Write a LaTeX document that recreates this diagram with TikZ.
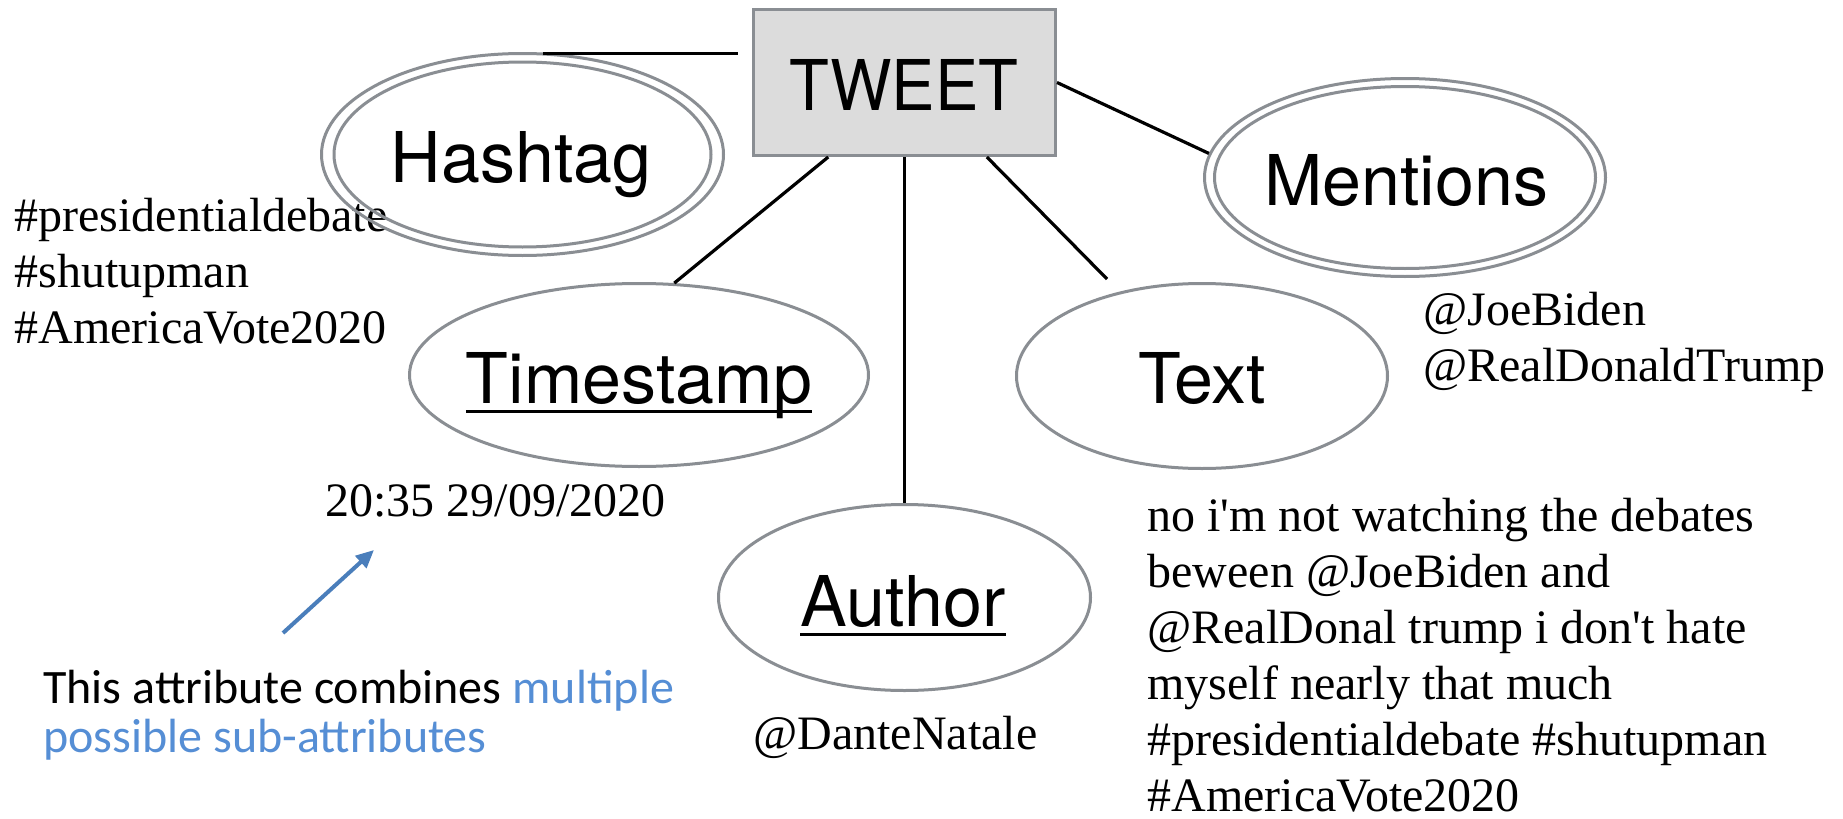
\documentclass[tikz,border=0pt]{standalone}
\usepackage{fontspec}
\setmainfont{Liberation Serif}[Ligatures=TeXOff]
\newfontfamily\labelfont{TeX Gyre Heros}
\newfontfamily\notefont{Carlito}
\usetikzlibrary{shapes.geometric,arrows.meta,calc}

\definecolor{edgegray}{HTML}{8A8E93}
\definecolor{boxfill}{HTML}{DCDCDC}
\definecolor{noteblue}{HTML}{558ED5}
\definecolor{arrowblue}{HTML}{4A7EBB}

% key attribute: text with a heavy underline
\newcommand{\keyattr}[1]{\setbox0=\hbox{#1}\rlap{\rule[-5pt]{\wd0}{1.75pt}}\box0}

\begin{document}
\begin{tikzpicture}[x=0.5pt,y=-0.5pt,
  entitybox/.style={draw=edgegray, line width=1.5pt, fill=boxfill, rectangle,
    inner sep=0pt, minimum width=151pt, minimum height=73pt},
  attrshape/.style={draw=edgegray, line width=1.5pt, ellipse, inner sep=0pt},
  attrline/.style={draw=edgegray, line width=1.5pt},
  lbl/.style={font=\labelfont\fontsize{35}{40}\selectfont, inner sep=0pt, anchor=base},
  % multi-line blocks are placed by the baseline of their last line
  sample/.style={font=\fontsize{24}{28}\selectfont, inner sep=0pt, anchor=base west, align=left},
  conn/.style={line width=1.6pt, black},
  notearrow/.style={line width=2pt, arrowblue, -{Triangle[length=9pt,width=8pt]}},
]
\useasboundingbox (0,0) rectangle (1843,819);
\fill[white] (0,0) rectangle (1843,819);

% sample values (drawn first so shapes sit on top)
\node[sample] (tagvals) at (14,343) {\#presidentialdebate\\\#shutupman\\\#AmericaVote2020};
\node[sample] (datevals) at (325,516) {20:35 29/09/2020};
\node[sample] (authorvals) at (753,749) {@DanteNatale};
\node[sample] (mentionvals) at (1423,381) {@JoeBiden\\@RealDonaldTrump};
\node[sample] (textvals) at (1147,811) {no i'm not watching the debates\\beween @JoeBiden and\\@RealDonal trump i don't hate\\myself nearly that much\\\#presidentialdebate \#shutupman\\\#AmericaVote2020};

% entity
\node[entitybox] (tweet) at (904.5,82.5) {};
\node[lbl] (tweet-t) at (904,110) {\scalebox{0.93}[1]{TWEET}};

% multivalued attributes (double ellipses)
\node[attrshape, minimum width=201pt, minimum height=101pt] (hashtag) at (522.5,154.5) {};
\draw[attrline] (hashtag.center) ellipse [x radius=188.5, y radius=92.5];
\node[lbl] (hashtag-t) at (521,182) {Hashtag};

\node[attrshape, minimum width=200.5pt, minimum height=99pt] (mentions) at (1405,177.5) {};
\draw[attrline] (mentions.center) ellipse [x radius=190.5, y radius=91];
\node[lbl] (mentions-t) at (1406,205) {Mentions};

% simple attributes
\node[attrshape, minimum width=229.5pt, minimum height=91.5pt] (timestamp) at (639,375) {};
\node[lbl] (timestamp-t) at (639,403) {\keyattr{Timestamp}};

\node[attrshape, minimum width=185.5pt, minimum height=92.5pt] (text) at (1202,376) {};
\node[lbl] (text-t) at (1202,403) {Text};

\node[attrshape, minimum width=186pt, minimum height=93pt] (author) at (904.5,597.5) {};
\node[lbl] (author-t) at (903,626) {\keyattr{Author}};

% connectors
\coordinate (hashtag-end) at ($(hashtag.north)+(20,1.5)$);
\coordinate (tweet-hashtag) at ($(tweet.west |- hashtag.north)+(-14,1.5)$);
\draw[conn] (hashtag-end) -- (tweet-hashtag);
\draw[conn] (tweet.east) -- (mentions.173);
\draw[conn] ($(tweet.south west)!0.25!(tweet.south east)$) -- (timestamp.69);
\draw[conn] (tweet.south) -- (author.north);
\coordinate (text-end) at ($(text.north)+(-95,-3)$);
\draw[conn] ($(tweet.south west)!0.77!(tweet.south east)$) -- (text-end);

% explanatory note
\coordinate (note-tail) at (283,633);
\coordinate (note-tip) at (374,550);
\draw[notearrow] (note-tail) -- (note-tip);
\node[font=\notefont\fontsize{24}{24.5}\selectfont, inner sep=0pt, anchor=base west, align=left] (note) at (43,752)
  {This attribute combines \textcolor{noteblue}{multiple}\\\textcolor{noteblue}{possible sub-attributes}};
\end{tikzpicture}
\end{document}
